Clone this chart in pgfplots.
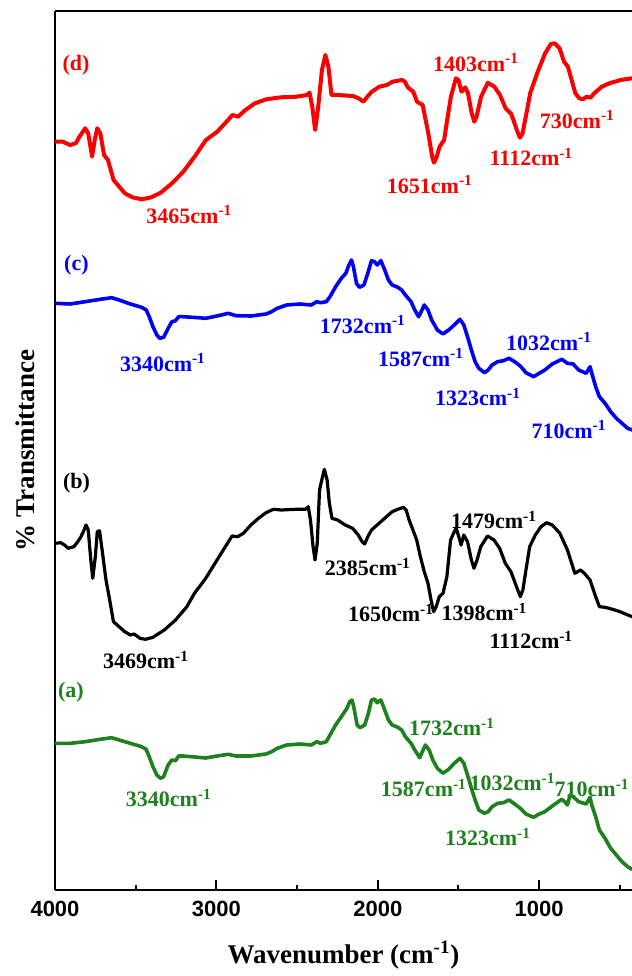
\documentclass[border=0pt]{standalone}
\usepackage{pgfplots}
\pgfplotsset{compat=1.18}
\usepackage{fontspec}
\setmainfont{Liberation Serif}
\newfontfamily\arial{Liberation Sans}
\definecolor{cred}{RGB}{250,0,0}
\definecolor{cblue}{RGB}{0,0,245}
\definecolor{cgreen}{RGB}{30,128,30}
\newcommand\lab[1]{\bfseries\fontsize{11}{12}\selectfont #1}
\newcommand\cm{cm\textsuperscript{-1}}
\begin{document}
\begin{tikzpicture}
\begin{axis}[
  scale only axis,
  width=288.5pt, height=439.5pt,
  x dir=reverse,
  xmin=425, xmax=4000, ymin=0, ymax=879,
  axis x line*=bottom, axis y line*=left,
  axis line style={line width=1pt},
  xtick={1000,2000,3000,4000},
  minor xtick={500,1500,2500,3500},
  ytick=\empty,
  tick align=inside,
  major tick length=5pt, minor tick length=2.5pt,
  every tick/.style={black, line width=1pt},
  /pgf/number format/1000 sep={},
  /pgf/number format/assume math mode=true,
  xticklabel style={font=\arial\bfseries\fontsize{11}{12}\selectfont, anchor=north, yshift=-2pt},
  xlabel={Wavenumber (cm\textsuperscript{-1})},
  xlabel style={font=\bfseries\fontsize{13.5}{15}\selectfont, at={(axis description cs:0.5,0)}, anchor=center, yshift=-32.5pt},
  ylabel={\% Transmittance},
  ylabel style={font=\bfseries\fontsize{13.5}{15}\selectfont, at={(axis description cs:-0.052,0.5)}, anchor=center},
  clip=true,
  every axis plot/.append style={line join=round, line cap=round},
]
\draw[line width=1pt] (rel axis cs:0,1) -- (rel axis cs:1,1);
% (d) red
\addplot[cred, line width=2pt] table {
4000 748.3
3953 748.3
3906 745
3871 746.7
3848 753.3
3813 761.7
3794 756.7
3770 733.3
3754 750
3738 761.7
3719 756.7
3696 735
3672 730
3637 710
3602 703.3
3567 696.7
3521 692.7
3462 690.7
3404 692.7
3345 697.3
3275 706.7
3205 718.3
3135 733.3
3065 750
2995 758.3
2937 768.3
2901 775
2866 773.3
2820 780
2761 786.7
2691 790.7
2598 792.7
2504 793.3
2439 795
2423 797.3
2406 783.3
2388 760
2369 783.3
2346 820
2325 835
2306 823.3
2287 795
2247 795
2154 794
2119 791.7
2089 788.3
2065 793.3
2037 798.3
1990 803.3
1944 805
1909 808.3
1850 810
1832 808.3
1815 802.7
1780 798.3
1757 788.3
1722 785
1687 756.7
1663 733.3
1652 727.3
1635 733.3
1617 743.3
1589 750
1570 770
1547 793.3
1516 811.7
1500 810
1481 798.3
1458 802.7
1441 796.7
1418 776.7
1402 768.3
1388 773.3
1360 793.3
1318 807.3
1278 803.3
1243 795
1208 781.7
1173 776
1149 765
1131 756.7
1119 752.3
1103 756.7
1079 776.7
1056 796.7
1009 818.3
963 836.7
928 846
904 846.7
874 841.7
846 828.3
822 823.3
799 810
776 796.7
752 791.7
729 790.7
706 793.3
682 792.3
659 796.7
612 803.3
565 806.7
495 810
425 811.7
};
% (c) blue
\addplot[cblue, line width=1.8pt] table {
4000 586.7
3906 586
3813 588.3
3719 590.7
3649 592.3
3603 590
3533 586
3463 582.7
3435 580
3416 573.3
3393 563.3
3369 555
3351 551.7
3327 552.7
3299 561.7
3276 568.3
3253 569.3
3234 573.3
3206 573.3
3113 572.3
3066 571.7
2996 574
2926 576.7
2879 574.3
2786 574
2692 576
2658 578.3
2623 581.7
2564 585
2483 586
2412 585
2378 588.3
2354 587.3
2319 588.3
2296 593.3
2261 603.3
2226 611.7
2198 616.7
2179 625
2163 630
2151 623.3
2132 606.7
2114 602.7
2086 605
2062 616.7
2039 629.3
2020 628.3
2004 625
1981 629.3
1957 620
1934 610
1911 605
1876 602.7
1852 600
1829 595
1794 588.3
1771 580
1747 573.3
1736 576.7
1712 585
1689 580
1666 570
1631 560
1596 556
1561 560
1526 565
1491 570.7
1467 565
1444 553.3
1420 540
1397 528.3
1374 521.7
1339 517.3
1316 520
1292 525
1257 528.3
1222 529.3
1187 531.7
1152 528.3
1117 524
1082 517.3
1035 513.3
1000 516.7
965 520
919 526
860 530.7
825 526.7
790 526
755 520
709 516.7
685 523.3
674 516.7
650 503.3
627 493.3
592 486.7
557 478.3
522 471.7
487 466.7
452 461.7
425 460
};
% (b) black
\addplot[black, line width=1.6pt] table {
4000 346.7
3965 347.3
3941 345
3918 341.7
3883 343.3
3859 348.3
3841 352.7
3824 358.3
3808 365
3794 360
3778 330
3766 311.7
3750 333.3
3738 358.3
3724 359.3
3708 340
3684 310
3661 290
3638 268.3
3603 263.3
3568 258.3
3533 255
3509 256
3474 251.7
3439 250.7
3393 252.7
3323 260
3253 270
3183 283.3
3136 296.7
3066 311.7
2996 330
2938 345
2903 354
2868 353.3
2833 356.7
2786 365
2739 371.7
2693 377.3
2646 380.7
2599 380
2506 380.7
2447 380.7
2431 383.3
2417 370
2401 343.3
2389 330
2375 346.7
2361 400
2347 410
2331 420.7
2314 410
2300 386.7
2284 371.7
2249 370
2202 365
2156 361.7
2121 355
2097 348.3
2081 346
2062 353.3
2039 360
1992 366.7
1946 373.3
1911 378.3
1876 380.7
1841 382.7
1824 380
1806 370
1782 360
1759 350
1736 333.3
1712 318.3
1689 306.7
1670 290
1654 278.3
1638 283.3
1619 293.3
1596 296.7
1572 313.3
1549 350
1526 358.3
1514 361.7
1498 353.3
1484 345
1467 355
1444 348.3
1420 330
1404 321.7
1385 330
1362 343.3
1320 354
1280 350
1245 341.7
1210 326.7
1175 318.3
1152 308.3
1129 298.3
1117 293.3
1101 300
1082 320
1059 343.3
1024 355
989 363.3
954 367.3
919 365
872 356.7
825 340
779 316.7
744 320
720 316.7
685 310
650 293.3
627 283.3
592 282.7
545 280.7
499 278.3
425 273.3
};
% (a) green
\addplot[cgreen, line width=1.8pt] table {
4000 146.7
3906 146.7
3813 148.3
3719 150.7
3649 152.3
3603 150
3533 146.7
3463 143.3
3435 140.7
3416 133.3
3393 123.3
3369 115
3346 111.7
3327 113.3
3299 125
3276 130
3253 129.3
3234 134
3206 134
3113 132.7
3066 132
2996 134
2926 135.7
2879 134
2786 134
2692 136
2658 138.3
2623 141.7
2564 145
2483 146
2412 145
2378 148.3
2354 146.7
2319 148.3
2296 155
2261 165
2226 173.3
2191 181.7
2174 188.3
2160 190
2149 183.3
2128 165
2109 162.3
2081 165
2058 176.7
2039 190
2020 191
2004 187.3
1981 190
1957 180
1934 170
1911 165
1876 162.7
1852 160
1829 153.3
1794 146.7
1771 140
1740 132.3
1724 138.3
1705 145
1682 140
1659 130
1631 121.7
1596 116.7
1561 120.7
1526 126.7
1491 131.7
1467 126.7
1444 115
1420 101.7
1397 90
1374 80
1339 76.7
1316 78.3
1292 83.3
1257 86.7
1222 87.3
1187 90
1152 86
1117 81.7
1082 76
1035 72.7
1000 76
965 78.3
919 84
860 90.7
842 88.3
825 85
809 95
790 93.3
755 88.3
709 86
685 92.7
674 85
650 73.3
627 60
592 51.7
557 41.7
522 35
487 28.3
452 23.3
425 20.7
};
% labels (d)
\node[cred] at (axis cs:3870,825) {\lab{(d)}};
\node[cred] at (axis cs:1391,827) {\lab{1403\cm}};
\node[cred] at (axis cs:1677,705) {\lab{1651\cm}};
\node[cred] at (axis cs:1048,733) {\lab{1112\cm}};
\node[cred] at (axis cs:763,770) {\lab{730\cm}};
\node[cred] at (axis cs:3167,675) {\lab{3465\cm}};
% labels (c)
\node[cblue] at (axis cs:3867,625) {\lab{(c)}};
\node[cblue] at (axis cs:3331,527) {\lab{3340\cm}};
\node[cblue] at (axis cs:2092,565) {\lab{1732\cm}};
\node[cblue] at (axis cs:1732,532) {\lab{1587\cm}};
\node[cblue] at (axis cs:939,548) {\lab{1032\cm}};
\node[cblue] at (axis cs:1379,493) {\lab{1323\cm}};
\node[cblue] at (axis cs:815,460) {\lab{710\cm}};
% labels (b)
\node[black] at (axis cs:3867,407) {\lab{(b)}};
\node[black] at (axis cs:2061,323) {\lab{2385\cm}};
\node[black] at (axis cs:1280,370) {\lab{1479\cm}};
\node[black] at (axis cs:1918,277) {\lab{1650\cm}};
\node[black] at (axis cs:1339,278) {\lab{1398\cm}};
\node[black] at (axis cs:1048,250) {\lab{1112\cm}};
\node[black] at (axis cs:3436,230) {\lab{3469\cm}};
% labels (a)
\node[cgreen] at (axis cs:3901,198) {\lab{(a)}};
\node[cgreen] at (axis cs:1540,163) {\lab{1732\cm}};
\node[cgreen] at (axis cs:3294,92) {\lab{3340\cm}};
\node[cgreen] at (axis cs:1714,102) {\lab{1587\cm}};
\node[cgreen] at (axis cs:1165,108) {\lab{1032\cm}};
\node[cgreen, anchor=east, inner sep=1pt] at (axis cs:425,102) {\lab{710\cm}};
\node[cgreen] at (axis cs:1317,53) {\lab{1323\cm}};
\end{axis}
\pgfresetboundingbox
\path ([xshift=-27.5pt,yshift=-43pt]current axis.south west) rectangle ([yshift=5.5pt]current axis.north east);
\end{tikzpicture}
\end{document}
